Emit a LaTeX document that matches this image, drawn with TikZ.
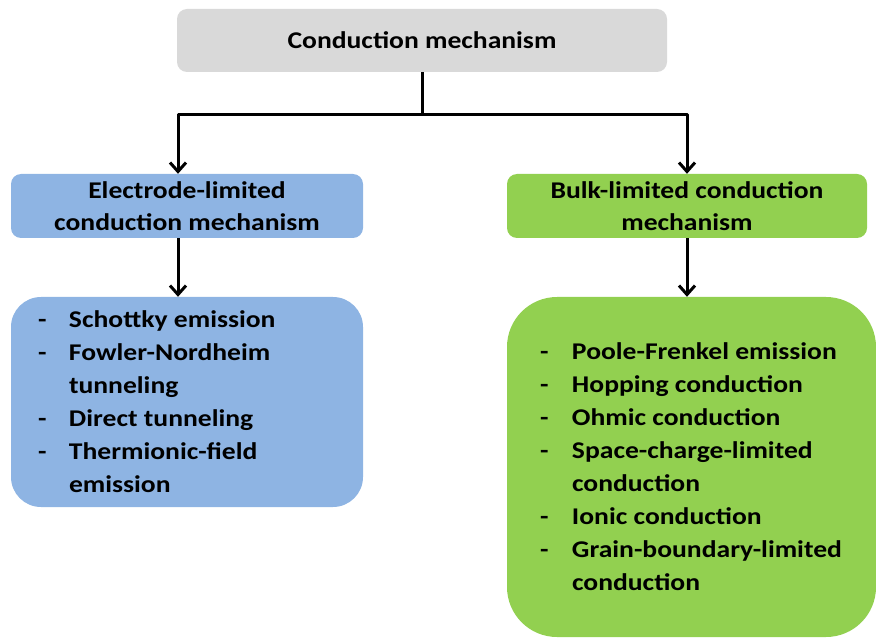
\documentclass[tikz,border=0pt]{standalone}
\usepackage{fontspec}
\setmainfont{Carlito}[FakeStretch=1.15]
\usetikzlibrary{arrows.meta}
\usetikzlibrary{positioning}
\definecolor{boxgray}{HTML}{D9D9D9}
\definecolor{boxblue}{HTML}{8EB4E3}
\definecolor{boxgreen}{HTML}{92D050}

\begin{document}
\begin{tikzpicture}[x=1pt,y=-1pt,line join=round,>={Straight Barb[length=9pt,width=16pt]},
  box/.style={rounded corners=10pt,inner sep=0pt,align=center,font=\fontsize{24}{32}\selectfont\bfseries},
  listbox/.style={rounded corners=#1,inner sep=0pt},
  listtext/.style={anchor=west,inner sep=0pt,font=\fontsize{24}{33}\selectfont\bfseries},
  link/.style={line width=3pt}]
\useasboundingbox (0,0) rectangle (876,639);
% top level
\node[box,fill=boxgray,minimum width=490pt,minimum height=63pt] (cm) at (422,40.5) {Conduction mechanism};
% second level
\node[box,fill=boxblue,minimum width=352pt,minimum height=64pt] (elmech) at (187,206) {Electrode-limited\\conduction mechanism};
\node[box,fill=boxgreen,minimum width=360pt,minimum height=64pt] (blmech) at (687,206) {Bulk-limited conduction\\mechanism};
% lists
\node[listbox=30pt,fill=boxblue,minimum width=352pt,minimum height=210pt] (ellist) at (187,402) {};
\node[listtext] (eltext) at ([xshift=27pt,yshift=-1.5pt]ellist.west) {\begin{tabular}{@{}p{31pt}@{}l@{}}
- & Schottky emission\\
- & Fowler-Nordheim\\
  & tunneling\\
- & Direct tunneling\\
- & Thermionic-field\\
  & emission
\end{tabular}};
\node[listbox=50pt,fill=boxgreen,minimum width=369pt,minimum height=340pt] (bllist) at (691.5,467) {};
\node[listtext] (bltext) at ([xshift=33pt,yshift=-1.5pt]bllist.west) {\begin{tabular}{@{}p{32pt}@{}l@{}}
- & Poole-Frenkel emission\\
- & Hopping conduction\\
- & Ohmic conduction\\
- & Space-charge-limited\\
  & conduction\\
- & Ionic conduction\\
- & Grain-boundary-limited\\
  & conduction
\end{tabular}};
% connectors
\coordinate (split) at (422,115);
\draw[link] (cm.south) -- (split);
\draw[link,->] (split) -| ([xshift=-9pt]elmech.north);
\draw[link,->] (split) -| (blmech.north);
\draw[link,->] ([xshift=-9pt]elmech.south) -- ([xshift=-9pt]elmech.south |- ellist.north);
\draw[link,->] (blmech.south) -- (blmech.south |- bllist.north);
\end{tikzpicture}
\end{document}
